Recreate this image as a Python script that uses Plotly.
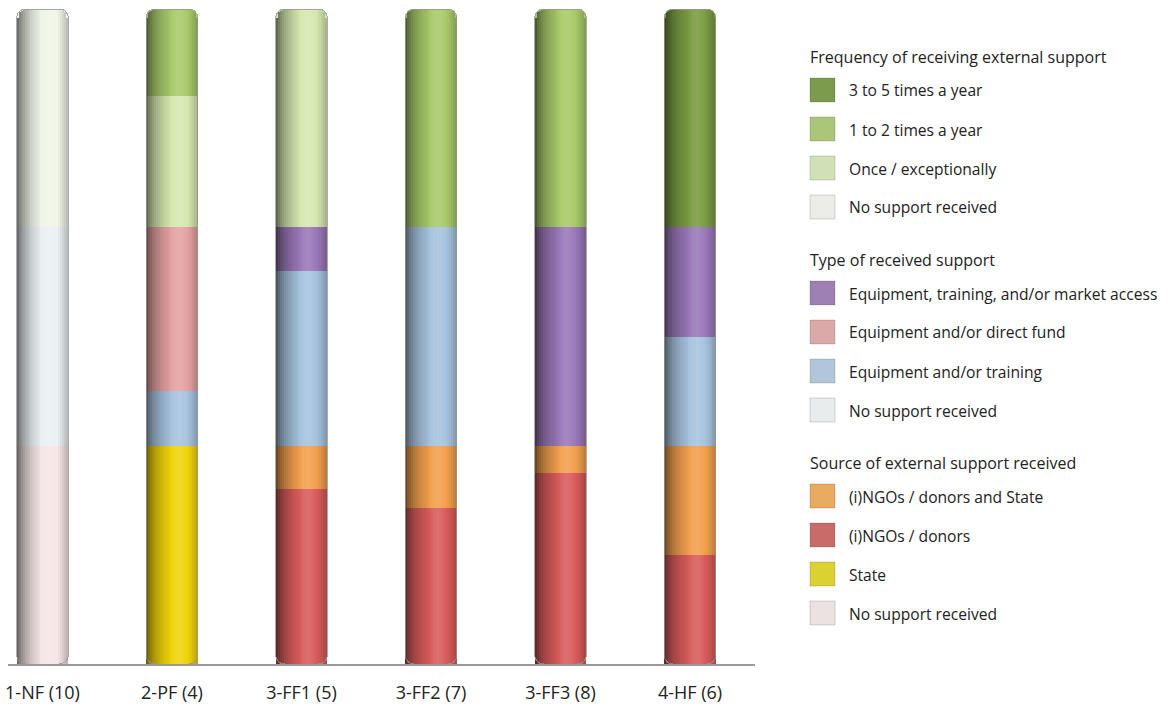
import numpy as np
import plotly.graph_objects as go

# ---------------- data (% of farms in each farm type) ----------------
categories = ["1-NF (10)", "2-PF (4)", "3-FF1 (5)", "3-FF2 (7)", "3-FF3 (8)", "4-HF (6)"]

# Source of external support received
src_none = [100, 0, 0, 0, 0, 0]
src_state = [0, 100, 0, 0, 0, 0]
src_ngo = [0, 0, 80, 71.4, 87.5, 50]
src_ngo_state = [0, 0, 20, 28.6, 12.5, 50]

# Type of received support
type_none = [100, 0, 0, 0, 0, 0]
type_equip_train = [0, 25, 80, 100, 0, 50]
type_equip_fund = [0, 75, 0, 0, 0, 0]
type_equip_train_market = [0, 0, 20, 0, 100, 50]

# Frequency of receiving external support
freq_none = [100, 0, 0, 0, 0, 0]
freq_once = [0, 60, 100, 0, 0, 0]
freq_1_2 = [0, 40, 0, 100, 100, 0]
freq_3_5 = [0, 0, 0, 0, 0, 100]

# series in stacking order (bottom -> top): name, values, bar colour, legend colour
series = [
    ("No support received", src_none, "#f6e6e6", "#ebe2e2"),
    ("State", src_state, "#f0d40a", "#dcd133"),
    ("(i)NGOs / donors", src_ngo, "#d95c5c", "#c96c69"),
    ("(i)NGOs / donors and State", src_ngo_state, "#f2a04e", "#e9aa62"),
    ("No support received", type_none, "#eaf0f3", "#e8ecec"),
    ("Equipment and/or training", type_equip_train, "#a7c3de", "#b1c7d9"),
    ("Equipment and/or direct fund", type_equip_fund, "#e6a2a2", "#dca9a9"),
    ("Equipment, training, and/or market access", type_equip_train_market, "#9a78b9", "#9f80b4"),
    ("No support received", freq_none, "#f0f5e8", "#ecede6"),
    ("Once / exceptionally", freq_once, "#d6e8b0", "#d0e1b7"),
    ("1 to 2 times a year", freq_1_2, "#a9ca6a", "#aac678"),
    ("3 to 5 times a year", freq_3_5, "#7a9c43", "#7c9b4c"),
]

legend_groups = [
    ("Frequency of receiving external support", [11, 10, 9, 8]),
    ("Type of received support", [7, 6, 5, 4]),
    ("Source of external support received", [3, 2, 1, 0]),
]

# ---------------- layout constants ----------------
W, H = 1174, 707
ML, MR, MT, MB = 8, 419, 9, 43
x_range = [-0.266, 5.502]
y_range = [0, 300]
bar_w = 0.4
radius = 9
font_family = "Open Sans, Noto Sans, sans-serif"

plot_w = W - ML - MR
plot_h = H - MT - MB

fig = go.Figure()

# stacked data bars
for name, vals, bcol, lcol in series:
    fig.add_trace(go.Bar(
        x=categories,
        y=[v if v > 0 else None for v in vals],
        name=name,
        marker=dict(color=bcol, line=dict(width=0)),
        width=bar_w,
        showlegend=False,
        hoverinfo="skip",
    ))

totals = [sum(s[1][i] for s in series) for i in range(len(categories))]

# cylinder shading: translucent vertical strips over each bar
n_strips = 26
px_x = plot_w / (x_range[1] - x_range[0])
px_y = plot_h / (y_range[1] - y_range[0])
bar_px = bar_w * px_x
prof_t = [0.0, 0.07, 0.17, 0.30, 0.45, 0.55, 0.65, 0.75, 0.88, 1.0]
prof_s = [0.60, 0.42, 0.27, 0.14, 0.04, -0.08, -0.12, -0.04, 0.08, 0.24]
for i in range(n_strips):
    t = (i + 0.5) / n_strips
    s = float(np.interp(t, prof_t, prof_s))
    col = f"rgba(0,0,0,{s:.3f})" if s >= 0 else f"rgba(255,255,255,{-s:.3f})"
    a0 = i * bar_px / n_strips
    b0 = (i + 1) * bar_px / n_strips
    d = min(a0, bar_px - b0)
    drop = 0.0
    if d < radius:
        drop = radius - np.sqrt(radius ** 2 - (radius - d) ** 2)
    fig.add_trace(go.Bar(
        x=categories,
        y=[tot - drop / px_y for tot in totals],
        base=[0] * len(categories),
        offset=-bar_w / 2 + i * bar_w / n_strips,
        width=bar_w / n_strips,
        marker=dict(color=col, line=dict(width=0), cornerradius=0),
        showlegend=False,
        hoverinfo="skip",
    ))

# thin outline around each cylinder
fig.add_trace(go.Bar(
    x=categories,
    y=totals,
    base=[0] * len(categories),
    offset=-bar_w / 2,
    width=bar_w,
    marker=dict(color="rgba(0,0,0,0)", line=dict(width=1, color="rgba(150,150,150,0.8)"), cornerradius=radius),
    showlegend=False,
    hoverinfo="skip",
))

# ---------------- custom legend ----------------
def px2paper_x(px):
    return (px - ML) / plot_w

def px2paper_y(py):
    return (H - MB - py) / plot_h

title_y = [57, 260, 463]
annotations = []
shapes = []
sw_x0, sw_w, sw_h, txt_x = 810, 25, 24, 849
for (gtitle, idxs), ty in zip(legend_groups, title_y):
    annotations.append(dict(
        x=px2paper_x(sw_x0), y=px2paper_y(ty), xref="paper", yref="paper",
        xanchor="left", yanchor="middle", showarrow=False, text=gtitle,
        borderpad=0, borderwidth=0,
        font=dict(family=font_family, size=16, color="#222222"),
    ))
    for k, idx in enumerate(idxs):
        cy = ty + 33 + k * 39
        name, _, _, lcol = series[idx]
        shapes.append(dict(
            type="rect", xref="paper", yref="paper",
            x0=px2paper_x(sw_x0), x1=px2paper_x(sw_x0 + sw_w),
            y0=px2paper_y(cy - sw_h / 2), y1=px2paper_y(cy + sw_h / 2),
            fillcolor=lcol, line=dict(color="rgba(0,0,0,0.15)", width=1),
        ))
        annotations.append(dict(
            x=px2paper_x(txt_x), y=px2paper_y(cy + 0.5), xref="paper", yref="paper",
            xanchor="left", yanchor="middle", showarrow=False, text=name,
            borderpad=0, borderwidth=0,
            font=dict(family=font_family, size=15.6, color="#222222"),
        ))

fig.update_layout(
    width=W, height=H,
    margin=dict(l=ML, r=MR, t=MT, b=MB),
    barmode="stack",
    barcornerradius=radius,
    plot_bgcolor="white", paper_bgcolor="white",
    showlegend=False,
    hovermode=False,
    annotations=annotations,
    shapes=shapes,
    xaxis=dict(
        type="category", range=x_range, showgrid=False, zeroline=False,
        showline=True, linecolor="#9a9a9a", linewidth=1.5,
        ticks="", ticklabelstandoff=12, automargin=False,
        tickfont=dict(family=font_family, size=18, color="#222222"),
    ),
    yaxis=dict(
        range=y_range, showgrid=False, zeroline=False, showline=False,
        showticklabels=False, ticks="", automargin=False,
    ),
)

fig.write_html(
    "out.html",
    config={"displayModeBar": False},
    post_script="document.body.style.margin='0';",
)
